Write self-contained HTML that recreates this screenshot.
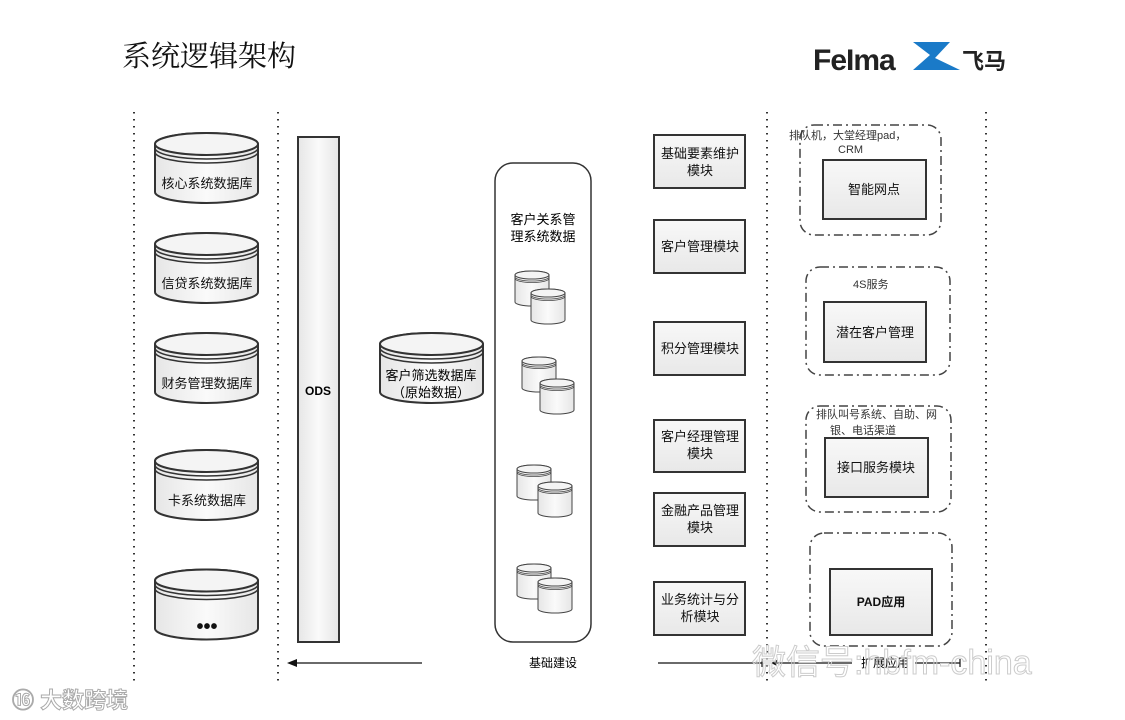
<!DOCTYPE html>
<html><head><meta charset="utf-8"><style>
html,body{margin:0;padding:0;background:#fff;}
svg{display:block;font-family:"Liberation Sans","Noto Sans CJK SC",sans-serif;}
</style></head><body>
<svg width="1125" height="720" viewBox="0 0 1125 720" xmlns="http://www.w3.org/2000/svg">
<defs>
<linearGradient id="g" x1="0" y1="0" x2="1" y2="0"><stop offset="0" stop-color="#e6e6e6"/><stop offset="0.5" stop-color="#fafafa"/><stop offset="1" stop-color="#e6e6e6"/></linearGradient>
<linearGradient id="gb" x1="0" y1="0" x2="0" y2="1"><stop offset="0" stop-color="#f8f8f8"/><stop offset="1" stop-color="#e8e8e8"/></linearGradient>
<symbol id="cyl" viewBox="0 0 103 70" overflow="visible">
<path d="M0,11 A51.5,11 0 0 1 103,11 L103,59 A51.5,11 0 0 1 0,59 Z" fill="url(#g)" stroke="#333" stroke-width="2"/>
<ellipse cx="51.5" cy="11" rx="51.5" ry="11" fill="#f4f4f4" stroke="#333" stroke-width="2"/>
<path d="M0,15 A51.5,11 0 0 0 103,15 M0,19 A51.5,11 0 0 0 103,19" fill="none" stroke="#333" stroke-width="1.5"/>
</symbol>
<symbol id="scyl" viewBox="0 0 34 35" overflow="visible">
<path d="M0,4 A17,4 0 0 1 34,4 L34,31 A17,4 0 0 1 0,31 Z" fill="url(#g)" stroke="#444" stroke-width="1"/>
<ellipse cx="17" cy="4" rx="17" ry="4" fill="#f4f4f4" stroke="#444" stroke-width="1"/>
<path d="M0,6 A17,4 0 0 0 34,6 M0,7.5 A17,4 0 0 0 34,7.5" fill="none" stroke="#444" stroke-width="0.8"/>
</symbol>
</defs>

<text x="122" y="66" font-size="29" fill="#111" font-family="'Noto Serif CJK SC',serif">系统逻辑架构</text>
<text x="813" y="70" font-size="30" font-weight="bold" fill="#222" letter-spacing="-1">FeIma</text>
<path d="M913,42 L950,42 L935,58 L960,70 L913,70 L930,55 Z" fill="#1a7ac8"/>
<text x="962" y="69" font-size="22" font-weight="bold" fill="#222">飞马</text>

<g stroke="#333" stroke-width="2" stroke-dasharray="1.5,5.5" fill="none">
<line x1="134" y1="112" x2="134" y2="682"/>
<line x1="278" y1="112" x2="278" y2="682"/>
<line x1="767" y1="112" x2="767" y2="682"/>
<line x1="986" y1="112" x2="986" y2="682"/>
</g>

<use href="#cyl" x="155" y="133" width="103" height="70"/>
<use href="#cyl" x="155" y="233" width="103" height="70"/>
<use href="#cyl" x="155" y="333" width="103" height="70"/>
<use href="#cyl" x="155" y="450" width="103" height="70"/>
<use href="#cyl" x="155" y="567" width="103" height="75"/>
<g font-size="13" fill="#111" text-anchor="middle">
<text x="207" y="188">核心系统数据库</text>
<text x="207" y="288">信贷系统数据库</text>
<text x="207" y="388">财务管理数据库</text>
<text x="207" y="505">卡系统数据库</text>
<text x="207" y="633" font-size="20" font-weight="bold">•••</text>
</g>

<rect x="298" y="137" width="41" height="505" fill="url(#g)" stroke="#333" stroke-width="2"/>
<text x="318" y="395" font-size="12" font-weight="bold" text-anchor="middle">ODS</text>

<use href="#cyl" x="380" y="328" width="103" height="80"/>
<text x="431" y="380" font-size="13" text-anchor="middle">客户筛选数据库</text>
<text x="431" y="397" font-size="13" text-anchor="middle">（原始数据）</text>

<rect x="495" y="163" width="96" height="479" rx="18" fill="#fff" stroke="#333" stroke-width="1.5"/>
<text x="543" y="224" font-size="13" text-anchor="middle">客户关系管</text>
<text x="543" y="241" font-size="13" text-anchor="middle">理系统数据</text>
<use href="#scyl" x="515" y="271" width="34" height="35"/>
<use href="#scyl" x="531" y="289" width="34" height="35"/>
<use href="#scyl" x="522" y="357" width="34" height="35"/>
<use href="#scyl" x="540" y="379" width="34" height="35"/>
<use href="#scyl" x="517" y="465" width="34" height="35"/>
<use href="#scyl" x="538" y="482" width="34" height="35"/>
<use href="#scyl" x="517" y="564" width="34" height="35"/>
<use href="#scyl" x="538" y="578" width="34" height="35"/>

<g fill="url(#gb)" stroke="#333" stroke-width="2">
<rect x="654" y="135" width="91" height="53"/>
<rect x="654" y="220" width="91" height="53"/>
<rect x="654" y="322" width="91" height="53"/>
<rect x="654" y="420" width="91" height="52"/>
<rect x="654" y="493" width="91" height="53"/>
<rect x="654" y="582" width="91" height="53"/>
</g>
<g font-size="13" text-anchor="middle" fill="#111">
<text x="700" y="158">基础要素维护</text><text x="700" y="175">模块</text>
<text x="700" y="251">客户管理模块</text>
<text x="700" y="353">积分管理模块</text>
<text x="700" y="441">客户经理管理</text><text x="700" y="458">模块</text>
<text x="700" y="515">金融产品管理</text><text x="700" y="532">模块</text>
<text x="700" y="604">业务统计与分</text><text x="700" y="621">析模块</text>
</g>

<g fill="none" stroke="#444" stroke-width="1.5" stroke-dasharray="9,4,2,4">
<rect x="800" y="125" width="141" height="110" rx="14"/>
<rect x="806" y="267" width="144" height="108" rx="14"/>
<rect x="806" y="406" width="145" height="106" rx="14"/>
<rect x="810" y="533" width="142" height="113" rx="14"/>
</g>
<g fill="url(#gb)" stroke="#333" stroke-width="2">
<rect x="823" y="160" width="103" height="59"/>
<rect x="824" y="302" width="102" height="60"/>
<rect x="825" y="438" width="103" height="59"/>
<rect x="830" y="569" width="102" height="66"/>
</g>
<g font-size="11" fill="#333">
<text x="789" y="139">排队机，大堂经理pad，</text>
<text x="838" y="153">CRM</text>
<text x="853" y="288">4S服务</text>
<text x="816" y="418">排队叫号系统、自助、网</text>
<text x="830" y="434">银、电话渠道</text>
</g>
<g font-size="13" text-anchor="middle" fill="#111">
<text x="874" y="194">智能网点</text>
<text x="875" y="337">潜在客户管理</text>
<text x="876" y="472">接口服务模块</text>
<text x="881" y="606" font-size="12" font-weight="bold">PAD应用</text>
</g>

<g stroke="#111" stroke-width="1.2" fill="none">
<line x1="292" y1="663" x2="422" y2="663"/>
<line x1="658" y1="663" x2="762" y2="663"/>
<line x1="772" y1="663" x2="852" y2="663"/>
<line x1="915" y1="663" x2="960" y2="663"/>
<line x1="762" y1="659" x2="762" y2="667"/>
<line x1="960" y1="659" x2="960" y2="667"/>
</g>
<path d="M287,663 L297,659 L297,667 Z" fill="#111"/>
<path d="M771,663 L777,660 L777,666 Z" fill="#111"/>
<text x="553" y="667" font-size="12" text-anchor="middle">基础建设</text>
<text x="885" y="667" font-size="12" text-anchor="middle">扩展应用</text>

<text x="752" y="674" font-size="34" fill="none" stroke="#ccc" stroke-width="1">微信号:hbfm-china</text>
<text x="12" y="708" font-size="22" font-weight="bold" fill="#fff" stroke="#aaa" stroke-width="1">⑯ 大数跨境</text>
</svg>
</body></html>
